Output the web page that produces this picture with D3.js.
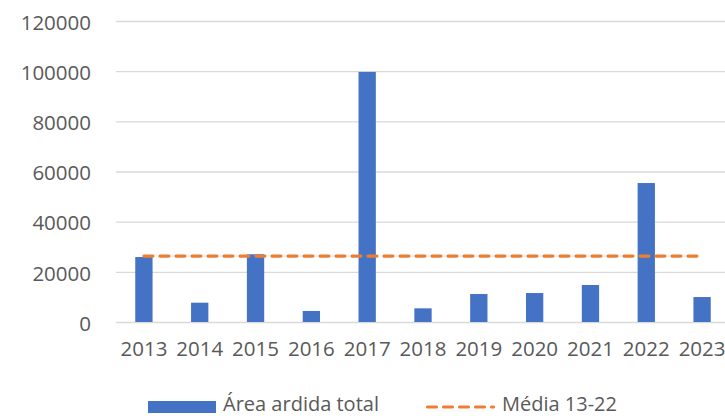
<!DOCTYPE html>
<html>
<head>
<meta charset="utf-8">
<script src="https://cdn.jsdelivr.net/npm/d3@7"></script>
<style>
  body { margin: 0; background: #fff; }
  text { font-family: "Open Sans", sans-serif; fill: #595959; }
</style>
</head>
<body>
<div id="chart"></div>
<script>
// dados
const years = ['2013', '2014', '2015', '2016', '2017', '2018', '2019', '2020', '2021', '2022', '2023'];
const burnedArea = [25900, 7700, 27000, 4400, 99700, 5450, 11150, 11550, 14750, 55400, 9950];
const average = [26300, 26300, 26300, 26300, 26300, 26300, 26300, 26300, 26300, 26300, 26300];
const yTicks = [0, 20000, 40000, 60000, 80000, 100000, 120000];
const seriesLabels = ['Área ardida total', 'Média 13-22'];

const width = 725, height = 416;
const plot = { left: 116, right: 730, top: 21, bottom: 322 };

const svg = d3.select('#chart').append('svg')
    .attr('width', width)
    .attr('height', height);

// escalas
const x = d3.scaleBand()
    .domain(years)
    .range([plot.left, plot.right])
    .paddingInner(0.69)
    .paddingOuter(0.345);

const y = d3.scaleLinear()
    .domain([0, 120000])
    .range([plot.bottom, plot.top]);

// grelha + eixo y
const yAxis = svg.append('g')
    .attr('transform', `translate(${plot.left},0)`)
    .call(d3.axisRight(y).tickValues(yTicks).tickSize(width - plot.left).tickFormat(d => d));
yAxis.select('.domain').remove();
yAxis.selectAll('.tick line').attr('stroke', '#d9d9d9').attr('stroke-width', 1.3);
yAxis.selectAll('.tick text')
    .attr('x', -25)
    .attr('text-anchor', 'end')
    .attr('dy', '0.4em')
    .style('font-size', '20.5px');

// eixo x
const xAxis = svg.append('g')
    .attr('transform', `translate(0,${plot.bottom})`)
    .call(d3.axisBottom(x).tickSize(0).tickPadding(19));
xAxis.select('.domain').remove();
xAxis.selectAll('.tick text')
    .attr('dy', '0.71em')
    .style('font-size', '20.5px');

// barras
svg.append('g').selectAll('rect')
    .data(years)
    .join('rect')
    .attr('x', d => x(d))
    .attr('y', (d, i) => y(burnedArea[i]))
    .attr('width', x.bandwidth())
    .attr('height', (d, i) => y(0) - y(burnedArea[i]))
    .attr('fill', '#4472c4');

// linha da média
const line = d3.line()
    .x((d, i) => x(years[i]) + x.bandwidth() / 2)
    .y(d => y(d));

svg.append('path')
    .datum(average)
    .attr('d', line)
    .attr('fill', 'none')
    .attr('stroke', '#ed7d31')
    .attr('stroke-width', 3.2)
    .attr('stroke-linecap', 'round')
    .attr('stroke-dasharray', '9,7');

// legenda
const legend = svg.append('g');
legend.append('rect')
    .attr('x', 148).attr('y', 401)
    .attr('width', 68).attr('height', 12)
    .attr('fill', '#4472c4');
legend.append('text')
    .attr('x', 223).attr('y', 410.5)
    .style('font-size', '20px')
    .text(seriesLabels[0]);
legend.append('line')
    .attr('x1', 427.5).attr('x2', 493.5)
    .attr('y1', 407).attr('y2', 407)
    .attr('stroke', '#ed7d31')
    .attr('stroke-width', 3.2)
    .attr('stroke-linecap', 'round')
    .attr('stroke-dasharray', '9,7');
legend.append('text')
    .attr('x', 502).attr('y', 410.5)
    .style('font-size', '20px')
    .text(seriesLabels[1]);
</script>
</body>
</html>
